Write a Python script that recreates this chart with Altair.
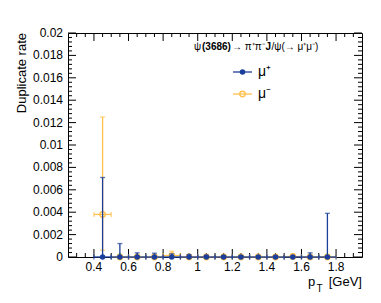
import altair as alt
import pandas as pd

# ---- data ----
pt_centers = [0.45, 0.55, 0.65, 0.75, 0.85, 0.95, 1.05, 1.15, 1.25, 1.35, 1.45, 1.55, 1.65, 1.75]
bin_half_width = 0.05

mu_plus_rate = [0, 0, 0, 0, 0, 0, 0, 0, 0, 0, 0, 0, 0, 0]
mu_plus_low = [0, 0, 0, 0, 0, 0, 0, 0, 0, 0, 0, 0, 0, 0]
mu_plus_high = [0.0071, 0.0012, 0.00037, 0.00034, 0.00028, 0.00022, 0.00016,
                0.00013, 0.0001, 0, 0, 0, 0.00037, 0.0039]

mu_minus_rate = [0.0038, 0, 0, 0, 0.00013, 0, 0, 0, 0, 0, 0, 0.00004, 0, 0]
mu_minus_low = [0.0006, 0, 0, 0, 0, 0, 0, 0, 0, 0, 0, 0, 0, 0]
mu_minus_high = [0.0125, 0, 0, 0, 0.00052, 0, 0, 0, 0, 0, 0, 0.00028, 0, 0]

x_tick_labels = [0.4, 0.6, 0.8, 1.0, 1.2, 1.4, 1.6, 1.8]
y_tick_labels = [0, 0.002, 0.004, 0.006, 0.008, 0.01, 0.012, 0.014, 0.016, 0.018, 0.02]
x_minor_ticks = [0.3, 0.35, 0.45, 0.5, 0.55, 0.65, 0.7, 0.75, 0.85, 0.9, 0.95, 1.05, 1.1,
                 1.15, 1.25, 1.3, 1.35, 1.45, 1.5, 1.55, 1.65, 1.7, 1.75, 1.85, 1.9]
y_minor_ticks = [round(i * 0.0004, 5) for i in range(1, 50) if i % 5 != 0]

BLUE = "#1b3e9b"
ORANGE = "#ffc04d"
FONT = "Liberation Sans"

W, H = 294, 224
xscale = alt.Scale(domain=[0.25, 1.95], nice=False, zero=False)
yscale = alt.Scale(domain=[0, 0.02], nice=False, zero=False)

rows = []
for name, rate, lo, hi in [("mu_plus", mu_plus_rate, mu_plus_low, mu_plus_high),
                           ("mu_minus", mu_minus_rate, mu_minus_low, mu_minus_high)]:
    for x, r, l, h in zip(pt_centers, rate, lo, hi):
        rows.append({"series": name, "pt": x, "rate": r, "lo": l, "hi": h,
                     "xlo": x - bin_half_width, "xhi": x + bin_half_width})
df = pd.DataFrame(rows)

base = alt.Chart(df)


def X(f):
    return alt.X(f, scale=xscale, axis=None)


def Y(f):
    return alt.Y(f, scale=yscale, axis=None)


def series_layers(name, color, filled):
    b = base.transform_filter(f"datum.series == '{name}'")
    sw = 1.3
    vert = b.mark_rule(color=color, strokeWidth=sw).encode(x=X("pt:Q"), y=Y("lo:Q"), y2="hi:Q")
    horiz = b.mark_rule(color=color, strokeWidth=sw).encode(x=X("xlo:Q"), x2="xhi:Q", y=Y("rate:Q"))
    capt = b.transform_filter("datum.hi > datum.rate").mark_tick(
        color=color, orient="horizontal", size=5, thickness=sw).encode(x=X("pt:Q"), y=Y("hi:Q"))
    capb = b.transform_filter("datum.lo < datum.rate").mark_tick(
        color=color, orient="horizontal", size=5, thickness=sw).encode(x=X("pt:Q"), y=Y("lo:Q"))
    capl = b.mark_tick(color=color, orient="vertical", size=5, thickness=sw).encode(
        x=X("xlo:Q"), y=Y("rate:Q"))
    capr = b.mark_tick(color=color, orient="vertical", size=5, thickness=sw).encode(
        x=X("xhi:Q"), y=Y("rate:Q"))
    if filled:
        pts = b.mark_point(shape="circle", filled=True, size=30, color=color, opacity=1)
    else:
        pts = b.mark_point(shape="circle", filled=False, size=30, color=color, strokeWidth=sw, opacity=1)
    pts = pts.encode(x=X("pt:Q"), y=Y("rate:Q"))
    return [vert, horiz, capt, capb, capl, capr, pts]


# tick labels drawn as text through the scales
xlab = alt.Chart(pd.DataFrame({"v": x_tick_labels})).mark_text(
    font=FONT, fontSize=12, align="center", baseline="top", color="black").encode(
    x=X("v:Q"), y=alt.value(H + 5), text=alt.Text("v:Q", format="~g"))
ylab = alt.Chart(pd.DataFrame({"v": y_tick_labels})).mark_text(
    font=FONT, fontSize=12, align="right", baseline="middle", color="black").encode(
    y=Y("v:Q"), x=alt.value(-5), text=alt.Text("v:Q", format="~g"))


def xticks(vals, length):
    d = alt.Chart(pd.DataFrame({"v": vals}))
    bot = d.mark_rule(color="black", strokeWidth=1).encode(
        x=X("v:Q"), y=alt.value(H), y2=alt.value(H - length))
    top = d.mark_rule(color="black", strokeWidth=1).encode(
        x=X("v:Q"), y=alt.value(0), y2=alt.value(length))
    return [bot, top]


def yticks(vals, length):
    d = alt.Chart(pd.DataFrame({"v": vals}))
    left = d.mark_rule(color="black", strokeWidth=1).encode(
        y=Y("v:Q"), x=alt.value(0), x2=alt.value(length))
    right = d.mark_rule(color="black", strokeWidth=1).encode(
        y=Y("v:Q"), x=alt.value(W), x2=alt.value(W - length))
    return [left, right]


one = alt.Data(values=[{}])


def text(t, x, y, size=12, weight="normal", align="left", baseline="alphabetic", angle=0):
    return alt.Chart(one).mark_text(text=t, font=FONT, fontSize=size, fontWeight=weight,
                                    align=align, baseline=baseline, angle=angle, color="black").encode(
        x=alt.value(x), y=alt.value(y))


annotations = [
    # axis titles
    text("Duplicate rate", -46, 0, size=13, align="right", baseline="middle", angle=270),
    text("p", 240, 253, size=13),
    text("T", 248.5, 259, size=10),
    text("[GeV]", 294, 253, size=13, align="right"),
    # legend header
    text("ψ", 126, 17, size=10),
    text("(3686)", 134, 17, size=10, weight="bold"),
    text("→ π⁺π⁻", 164, 17, size=10),
    text("J", 197.5, 17, size=10, weight="bold"),
    text("/ψ(→ μ⁺μ⁻)", 203.5, 17, size=10),
    # legend entries
    alt.Chart(one).mark_rule(color=BLUE, strokeWidth=1.3).encode(
        x=alt.value(165), x2=alt.value(184), y=alt.value(39)),
    alt.Chart(one).mark_point(shape="circle", filled=True, size=30, color=BLUE, opacity=1).encode(
        x=alt.value(174.5), y=alt.value(39)),
    text("μ⁺", 190, 39, size=14, baseline="middle"),
    alt.Chart(one).mark_rule(color=ORANGE, strokeWidth=1.3).encode(
        x=alt.value(165), x2=alt.value(184), y=alt.value(61)),
    alt.Chart(one).mark_point(shape="circle", filled=False, size=30, color=ORANGE,
                              strokeWidth=1.3, opacity=1).encode(
        x=alt.value(174.5), y=alt.value(61)),
    text("μ⁻", 190, 61, size=14, baseline="middle"),
]

layers = (xticks(x_tick_labels, 8) + xticks(x_minor_ticks, 4)
          + yticks(y_tick_labels, 8) + yticks(y_minor_ticks, 4)
          + [xlab, ylab]
          + series_layers("mu_minus", ORANGE, False)
          + series_layers("mu_plus", BLUE, True)
          + annotations)

chart = alt.layer(*layers).properties(
    width=W, height=H,
    background="white",
    autosize=alt.AutoSizeParams(type="none"),
    padding={"left": 60, "top": 25, "right": 11, "bottom": 38},
).configure_view(stroke="black", strokeWidth=1)

chart.save("out.html", embed_options={"renderer": "svg", "actions": False})
